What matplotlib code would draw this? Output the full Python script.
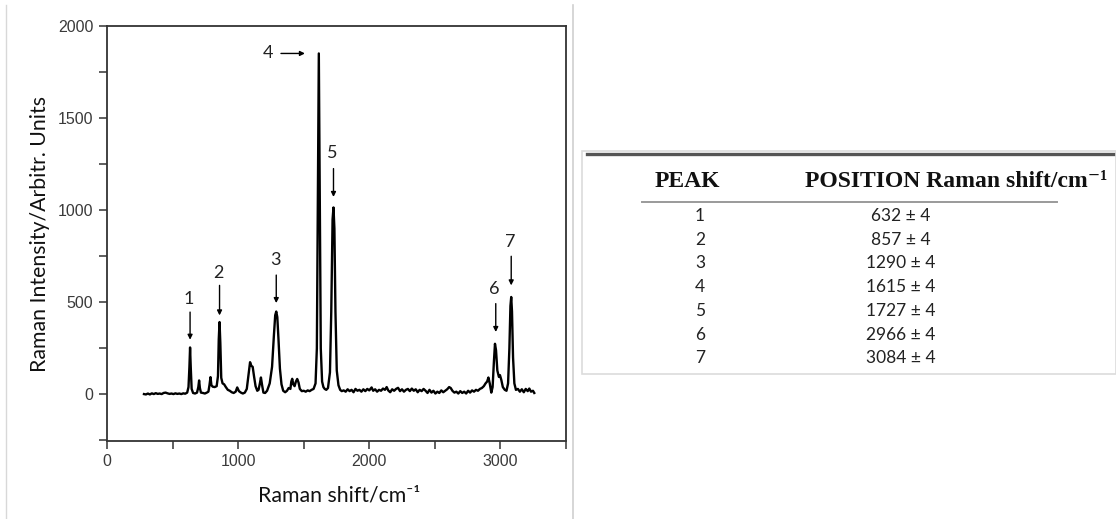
# RAMAN SPECTRUM + PEAK TABLE

import matplotlib
matplotlib.use("Agg")
import matplotlib.pyplot as plt
from matplotlib.lines import Line2D
from matplotlib.patches import Rectangle

# ==============================
# DATA
# ==============================
raman_shift = [
    280, 295, 310, 325, 340, 355, 370, 385, 400, 415, 430, 445, 460, 475, 490,
    505, 520, 535, 550, 565, 580, 595, 610, 620, 627, 632, 637, 644, 655, 670,
    685, 695, 701, 707, 715, 730, 745, 760, 772, 780, 788, 795, 805, 820, 835,
    845, 851, 857, 863, 870, 880, 892, 905, 920, 935, 950, 965, 980, 992, 1005,
    1020, 1035, 1050, 1065, 1080, 1090, 1100, 1110, 1120, 1132, 1145, 1155, 1165, 1173, 1182,
    1192, 1205, 1220, 1240, 1258, 1272, 1282, 1290, 1298, 1307, 1318, 1330, 1343, 1358, 1372,
    1385, 1398, 1405, 1412, 1420, 1430, 1440, 1450, 1460, 1470, 1485, 1500, 1515, 1530, 1545,
    1560, 1575, 1590, 1600, 1608, 1615, 1622, 1630, 1640, 1650, 1660, 1672, 1685, 1700, 1710,
    1720, 1727, 1734, 1742, 1752, 1765, 1778, 1790, 1805, 1820, 1835, 1850, 1865, 1880, 1895,
    1910, 1925, 1940, 1955, 1970, 1985, 2000, 2018, 2030, 2045, 2060, 2075, 2090, 2105, 2120,
    2133, 2145, 2160, 2175, 2190, 2205, 2220, 2235, 2250, 2265, 2280, 2295, 2310, 2325, 2340,
    2355, 2370, 2385, 2400, 2415, 2430, 2445, 2460, 2475, 2490, 2505, 2520, 2535, 2550, 2565,
    2580, 2595, 2610, 2622, 2635, 2650, 2665, 2680, 2695, 2710, 2725, 2740, 2755, 2770, 2785,
    2800, 2815, 2830, 2845, 2860, 2875, 2888, 2900, 2910, 2920, 2932, 2942, 2952, 2960, 2968,
    2978, 2990, 2998, 3008, 3020, 3035, 3048, 3060, 3070, 3078, 3084, 3090, 3098, 3108, 3120,
    3135, 3150, 3165, 3180, 3195, 3210, 3222, 3235, 3250, 3260,
]
intensity = [
    2, 0, 5, 0, 6, 2, 7, 3, 5, 2, 8, 10, 6, 3, 5,
    2, 6, 3, 5, 2, 6, 4, 10, 40, 150, 255, 150, 30, 8, 5,
    10, 40, 76, 35, 10, 8, 5, 10, 15, 50, 94, 50, 42, 40, 45,
    100, 300, 393, 280, 90, 60, 55, 40, 25, 20, 12, 8, 15, 38, 18,
    10, 5, 10, 30, 120, 175, 155, 150, 100, 45, 20, 25, 60, 92, 50,
    10, 8, 20, 60, 150, 320, 430, 450, 420, 300, 140, 55, 20, 12, 20,
    35, 30, 70, 85, 55, 45, 70, 84, 65, 30, 18, 20, 15, 22, 18,
    25, 30, 60, 250, 1100, 1851, 1100, 250, 70, 40, 30, 25, 35, 120, 450,
    950, 1015, 900, 450, 130, 50, 25, 18, 22, 15, 28, 18, 25, 12, 30,
    20, 25, 15, 28, 18, 30, 22, 38, 20, 28, 15, 25, 20, 32, 25,
    40, 22, 12, 28, 20, 30, 36, 18, 28, 15, 25, 30, 18, 32, 20,
    28, 12, 25, 18, 30, 20, 8, 25, 10, 20, 5, 15, 8, 22, 12,
    20, 28, 40, 35, 20, 10, 15, 5, 18, 8, 15, 5, 20, 10, 22,
    15, 25, 20, 30, 35, 45, 60, 70, 92, 60, 10, 40, 180, 275, 240,
    130, 95, 105, 80, 40, 25, 20, 60, 250, 480, 529, 450, 200, 60, 25,
    30, 15, 28, 12, 30, 18, 32, 15, 20, 8,
]

peak_labels = ["1", "2", "3", "4", "5", "6", "7"]
peak_positions = [632, 857, 1290, 1615, 1727, 2966, 3084]
peak_table = ["632 ± 4", "857 ± 4", "1290 ± 4", "1615 ± 4", "1727 ± 4", "2966 ± 4", "3084 ± 4"]

# ==============================
# FIGURE
# ==============================
W, H = 1116, 519
fig = plt.figure(figsize=(W / 100, H / 100), dpi=100)
fig.patch.set_facecolor("white")


def fx(px):
    return px / W


def fy(py):
    return 1 - py / H


ax = fig.add_axes([fx(107.3), fy(440.5), fx(565.7) - fx(107.3), fy(26) - fy(440.5)])
ax.plot(raman_shift, intensity, color="black", lw=1.7, solid_joinstyle="round")

ax.set_xlim(0, 3500)
ax.set_ylim(-250, 2000)
ax.set_xticks([0, 1000, 2000, 3000])
ax.set_xticks([500, 1500, 2500, 3500], minor=True)
ax.set_yticks([0, 500, 1000, 1500, 2000])
ax.set_yticks([-250, 250, 750, 1250, 1750], minor=True)
ax.tick_params(which="both", direction="out", length=6, width=1.1, color="#333333")
ax.tick_params(labelsize=11.5, labelcolor="#3a3a3a", pad=4)
for lab in ax.get_xticklabels() + ax.get_yticklabels():
    lab.set_family("Liberation Sans")
for sp in ax.spines.values():
    sp.set_linewidth(1.3)
    sp.set_color("#333333")

# axis titles placed by hand, like the original
fig.text(fx(339), fy(495), "Raman shift/cm⁻¹", family=["Lato", "DejaVu Sans"], fontsize=15.3,
         ha="center", va="center", color="#111111")
fig.text(fx(40), fy(234), "Raman Intensity/Arbitr. Units", family=["Lato", "DejaVu Sans"],
         fontsize=15.3, rotation=90, ha="center", va="center", color="#111111")

# ==============================
# PEAK ARROWS
# ==============================
arrow_kw = dict(arrowstyle="-|>", color="black", lw=1.0, mutation_scale=7, shrinkA=0, shrinkB=0)
label_font = dict(family="Lato", fontsize=13, ha="center", va="center", color="#222222")

# vertical arrows: (label y, arrow start y, arrow end y)
vert = {
    "1": (519, 447, 297),
    "2": (660, 592, 429),
    "3": (732, 648, 496),
    "5": (1308, 1226, 1072),
    "6": (574, 493, 339),
    "7": (828, 750, 592),
}
for lab, pos in zip(peak_labels, peak_positions):
    if lab in vert:
        ty, y0, y1 = vert[lab]
        ax.annotate("", xy=(pos, y1), xytext=(pos, y0), arrowprops=arrow_kw)
        ax.text(pos - 8, ty, lab, **label_font)

# peak 4 has a horizontal arrow
ax.annotate("", xy=(1509, 1851), xytext=(1326, 1851), arrowprops=arrow_kw)
ax.text(1229, 1851, "4", **label_font)

# ==============================
# FRAME LINES
# ==============================
fig.add_artist(Line2D([fx(6), fx(6)], [fy(5), fy(519)], color="#d8d8d8", lw=1))
fig.add_artist(Line2D([fx(572.7), fx(572.7)], [fy(5), fy(519)], color="#d0d0d0", lw=1.2))

# ==============================
# TABLE
# ==============================
fig.add_artist(Rectangle((fx(581.7), fy(374)), fx(1116) - fx(581.7), fy(150.7) - fy(374),
                         fill=False, edgecolor="#dcdcdc", lw=1.2))
fig.add_artist(Line2D([fx(586.7), fx(1113.3)], [fy(154.3), fy(154.3)], color="#555555", lw=2.4))
fig.add_artist(Line2D([fx(641.7), fx(1056.7)], [fy(202.3), fy(202.3)], color="#9a9a9a", lw=1.4))

head_font = dict(family=["Liberation Serif", "DejaVu Serif"], fontweight="bold", fontsize=17,
                 ha="center", va="center", color="#111111")
fig.text(fx(687), fy(181), "PEAK", **head_font)
fig.text(fx(956), fy(181), "POSITION Raman shift/cm⁻¹", **head_font)

row_font = dict(family="Lato", fontsize=12.5, ha="center", va="center", color="#222222")
for i, (lab, val) in enumerate(zip(peak_labels, peak_table)):
    yy = 216 + i * 23.7
    fig.text(fx(700), fy(yy), lab, **row_font)
    fig.text(fx(901), fy(yy), val, **row_font)

plt.savefig("out.png", dpi=100)
plt.close()
